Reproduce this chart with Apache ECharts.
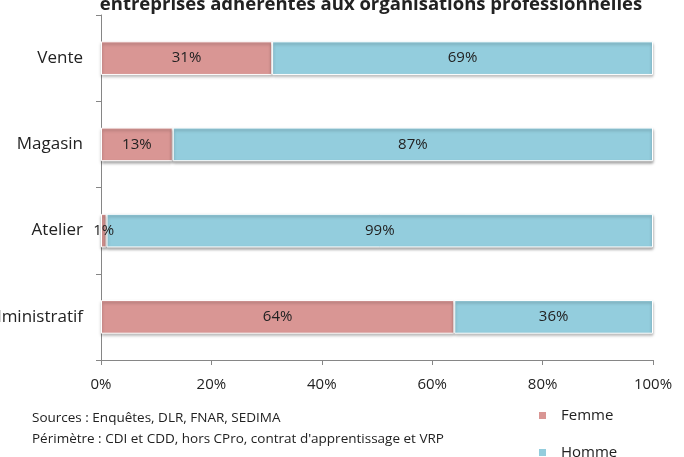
<!DOCTYPE html>
<html>
<head>
<meta charset="utf-8">
<script src="https://cdn.jsdelivr.net/npm/echarts@6/dist/echarts.min.js"></script>
<style>
  html, body { margin: 0; padding: 0; background: #fff; }
  #chart { width: 684px; height: 457px; }
</style>
</head>
<body>
<div id="chart"></div>
<script>
// données
const categories = ['Vente', 'Magasin', 'Atelier', 'Administratif']
const femme = [31, 13, 1, 64]
const homme = [69, 87, 99, 36]
const xTicks = [0, 20, 40, 60, 80, 100]

const FONT = '"Open Sans", "Noto Sans", sans-serif'
const chart = echarts.init(document.getElementById('chart'))

const barStyle = color => ({
  color,
  borderColor: '#fff',
  borderWidth: 1,
  shadowColor: 'rgba(0,0,0,0.35)',
  shadowBlur: 3,
  shadowOffsetY: 2
})

const legendItem = (name, top) => ({
  left: 532,
  top,
  itemWidth: 9,
  itemHeight: 9,
  icon: 'rect',
  data: [name],
  textStyle: { fontSize: 15, color: '#222', fontFamily: FONT, padding: [0, 0, 0, 9] }
})

chart.setOption({
  animation: false,
  textStyle: { fontFamily: FONT },
  title: {
    text: 'entreprises adhérentes aux organisations professionnelles',
    left: 366,
    textAlign: 'center',
    top: -10,
    textStyle: { fontSize: 18.5, fontWeight: 'bold', color: '#222', fontFamily: FONT }
  },
  legend: [legendItem('Femme', 403), legendItem('Homme', 440)],
  grid: { left: 101, right: 31, top: 15, bottom: 97, outerBoundsMode: 'none' },
  xAxis: {
    type: 'value',
    min: xTicks[0],
    max: xTicks[xTicks.length - 1],
    interval: 20,
    axisLine: { show: true, lineStyle: { color: '#868686' } },
    axisTick: { show: true, length: 5, lineStyle: { color: '#868686' } },
    splitLine: { show: false },
    axisLabel: { formatter: '{value}%', fontSize: 15, color: '#222', margin: 17 }
  },
  yAxis: {
    type: 'category',
    inverse: true,
    data: categories,
    axisLine: { show: true, lineStyle: { color: '#868686' } },
    axisTick: { show: true, length: 5, lineStyle: { color: '#868686' } },
    axisLabel: { fontSize: 17, color: '#222', margin: 18 }
  },
  series: [
    {
      name: 'Femme',
      type: 'bar',
      stack: 'total',
      barCategoryGap: '61%',
      data: femme,
      itemStyle: barStyle('#D99694'),
      label: {
        show: true,
        position: 'inside',
        formatter: '{c}%',
        fontSize: 15,
        color: '#222'
      }
    },
    {
      name: 'Homme',
      type: 'bar',
      stack: 'total',
      data: homme,
      itemStyle: barStyle('#93CDDD'),
      label: {
        show: true,
        position: 'inside',
        formatter: '{c}%',
        fontSize: 15,
        color: '#222'
      }
    }
  ],
  graphic: [
    {
      type: 'text',
      left: 32,
      top: 411,
      style: { text: 'Sources : Enquêtes, DLR, FNAR, SEDIMA', fontSize: 13.5, fill: '#222', fontFamily: FONT }
    },
    {
      type: 'text',
      left: 32,
      top: 432,
      style: { text: "Périmètre : CDI et CDD, hors CPro, contrat d'apprentissage et VRP", fontSize: 13.5, fill: '#222', fontFamily: FONT }
    }
  ]
})
</script>
</body>
</html>
